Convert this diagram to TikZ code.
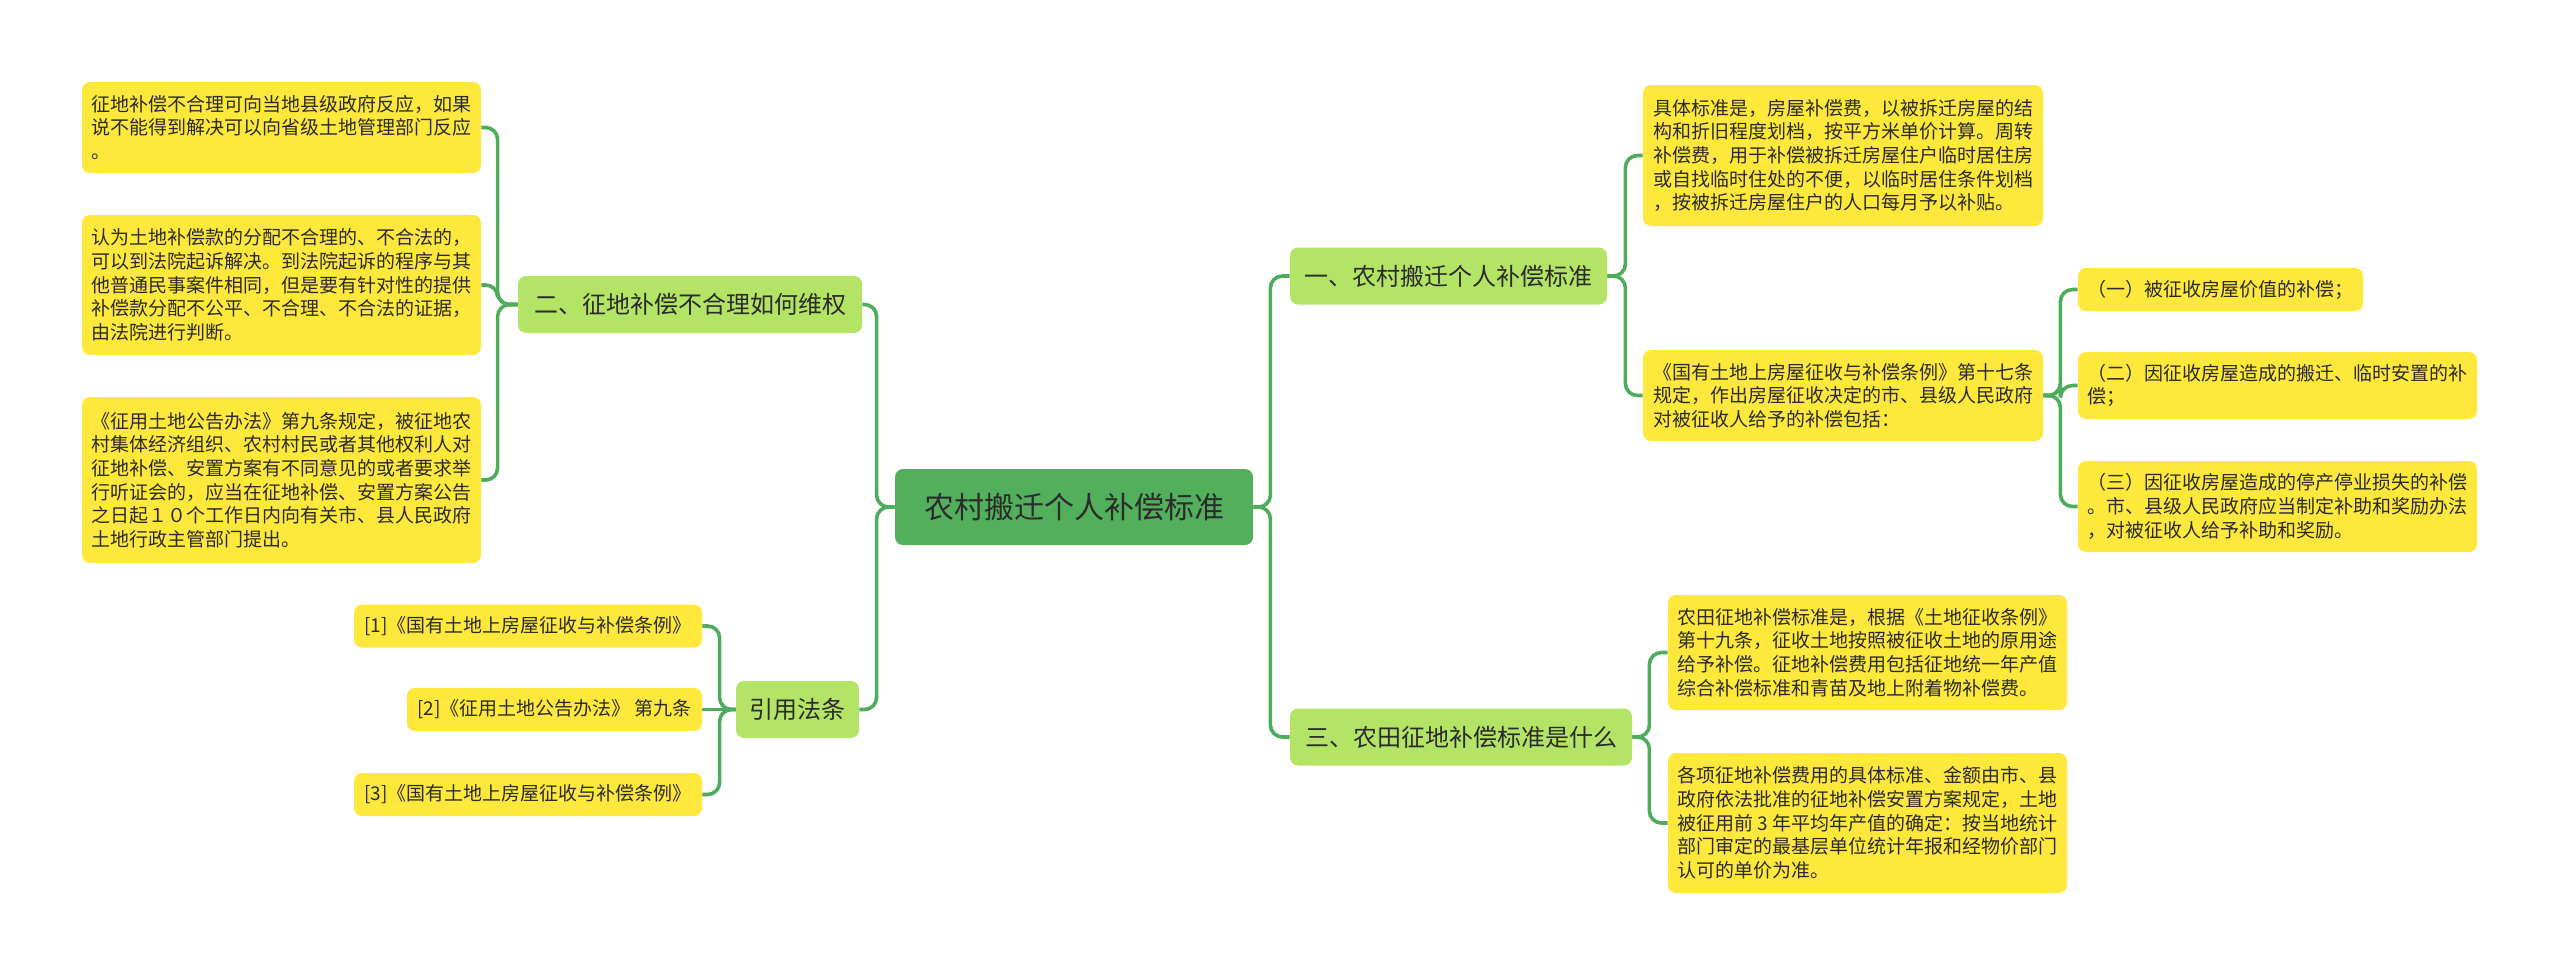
\documentclass[tikz,border=0pt]{standalone}
\usepackage{fontspec}
\newfontfamily\cjk{Noto Sans CJK SC}
\definecolor{leafc}{HTML}{FEE83B}
\definecolor{subc}{HTML}{B3E465}
\definecolor{rootc}{HTML}{52B05C}
\definecolor{linec}{HTML}{4FAC5C}
\definecolor{textc}{HTML}{2B2B2B}
\tikzset{
  leaf/.style={fill=leafc, rounded corners=4pt, inner sep=0pt, align=left, text=textc,
    font=\cjk\fontsize{9.5pt}{11.85pt}\selectfont},
  sub/.style={fill=subc, rounded corners=4pt, inner sep=0pt, align=center, text=textc,
    font=\cjk\fontsize{12pt}{14pt}\selectfont, minimum height=28.5pt},
  rootbox/.style={fill=rootc, rounded corners=4pt, inner sep=0pt, align=center, text=textc,
    font=\cjk\fontsize{15pt}{18pt}\selectfont},
  conn/.style={draw=linec, line width=1.8pt, rounded corners=6pt}
}
\begin{document}
\begin{tikzpicture}[x=0.5pt,y=-0.5pt]
\useasboundingbox (0,0) rectangle (2560,975);
\fill[white] (0,0) rectangle (2560,975);
% root
\node[rootbox, minimum width=179pt, minimum height=38pt] (C) at (1074,507) {农村搬迁个人补偿标准};
% left subtopics
\node[sub, minimum width=172pt] (N2) at (690,304.5) {二、征地补偿不合理如何维权};
\node[sub, minimum width=61.5pt] (N4) at (797.5,709.5) {引用法条};
% right subtopics
\node[sub, minimum width=158.5pt] (N1) at (1448.5,276) {一、农村搬迁个人补偿标准};
\node[sub, minimum width=171pt] (N3) at (1461,737) {三、农田征地补偿标准是什么};
% left leaves
\node[leaf, minimum width=199.5pt, minimum height=45.5pt] (L1) at (281.5,127.5) {征地补偿不合理可向当地县级政府反应，如果\\说不能得到解决可以向省级土地管理部门反应\\。};
\node[leaf, minimum width=199.5pt, minimum height=70pt] (L2) at (281.5,285) {认为土地补偿款的分配不合理的、不合法的，\\可以到法院起诉解决。到法院起诉的程序与其\\他普通民事案件相同，但是要有针对性的提供\\补偿款分配不公平、不合理、不合法的证据，\\由法院进行判断。};
\node[leaf, minimum width=199.5pt, minimum height=83pt] (L3) at (281.5,480) {《征用土地公告办法》第九条规定，被征地农\\村集体经济组织、农村村民或者其他权利人对\\征地补偿、安置方案有不同意见的或者要求举\\行听证会的，应当在征地补偿、安置方案公告\\之日起１０个工作日内向有关市、县人民政府\\土地行政主管部门提出。};
\node[leaf, minimum width=174pt, minimum height=21.5pt] (R1) at (528,626) {[1]《国有土地上房屋征收与补偿条例》};
\node[leaf, minimum width=147.5pt, minimum height=21.5pt] (R2) at (554.5,709.5) {[2]《征用土地公告办法》 第九条};
\node[leaf, minimum width=174pt, minimum height=21.5pt] (R3) at (528,794.5) {[3]《国有土地上房屋征收与补偿条例》};
% right leaves
\node[leaf, minimum width=200pt, minimum height=70.5pt] (A1) at (1843,155.5) {具体标准是，房屋补偿费，以被拆迁房屋的结\\构和折旧程度划档，按平方米单价计算。周转\\补偿费，用于补偿被拆迁房屋住户临时居住房\\或自找临时住处的不便，以临时居住条件划档\\，按被拆迁房屋住户的人口每月予以补贴。};
\node[leaf, minimum width=200pt, minimum height=45.5pt] (A2) at (1843,395.5) {《国有土地上房屋征收与补偿条例》第十七条\\规定，作出房屋征收决定的市、县级人民政府\\对被征收人给予的补偿包括：};
\node[leaf, minimum width=142.5pt, minimum height=21.5pt] (B1) at (2220.5,289.5) {（一）被征收房屋价值的补偿；};
\node[leaf, minimum width=199.5pt, minimum height=33.5pt] (B2) at (2277.5,385.5) {（二）因征收房屋造成的搬迁、临时安置的补\\偿；};
\node[leaf, minimum width=199.5pt, minimum height=45.5pt] (B3) at (2277.5,506.5) {（三）因征收房屋造成的停产停业损失的补偿\\。市、县级人民政府应当制定补助和奖励办法\\，对被征收人给予补助和奖励。};
\node[leaf, minimum width=199.5pt, minimum height=57.5pt] (C1) at (1867.5,652.5) {农田征地补偿标准是，根据《土地征收条例》\\第十九条，征收土地按照被征收土地的原用途\\给予补偿。征地补偿费用包括征地统一年产值\\综合补偿标准和青苗及地上附着物补偿费。};
\node[leaf, minimum width=199.5pt, minimum height=70pt] (C2) at (1867.5,823) {各项征地补偿费用的具体标准、金额由市、县\\政府依法批准的征地补偿安置方案规定，土地\\被征用前 3 年平均年产值的确定：按当地统计\\部门审定的最基层单位统计年报和经物价部门\\认可的单价为准。};
% connectors
\draw[conn] (C.west) -- ++(-18,0) |- (N2.east);
\draw[conn] (C.west) -- ++(-18,0) |- (N4.east);
\draw[conn] (C.east) -- ++(17,0) |- (N1.west);
\draw[conn] (C.east) -- ++(17,0) |- (N3.west);
\draw[conn] (N2.west) -- ++(-20,0) |- (L1.east);
\draw[conn] (N2.west) -- ++(-20,0) |- (L2.east);
\draw[conn] (N2.west) -- ++(-20,0) |- (L3.east);
\draw[conn] (N4.west) -- ++(-16,0) |- (R1.east);
\draw[conn] (N4.west) -- (R2.east);
\draw[conn] (N4.west) -- ++(-16,0) |- (R3.east);
\draw[conn] (N1.east) -- ++(18,0) |- (A1.west);
\draw[conn] (N1.east) -- ++(18,0) |- (A2.west);
\draw[conn] (A2.east) -- ++(17,0) |- (B1.west);
\draw[conn] (A2.east) -- ++(17,0) |- (B2.west);
\draw[conn] (A2.east) -- ++(17,0) |- (B3.west);
\draw[conn] (N3.east) -- ++(17,0) |- (C1.west);
\draw[conn] (N3.east) -- ++(17,0) |- (C2.west);
\end{tikzpicture}
\end{document}
